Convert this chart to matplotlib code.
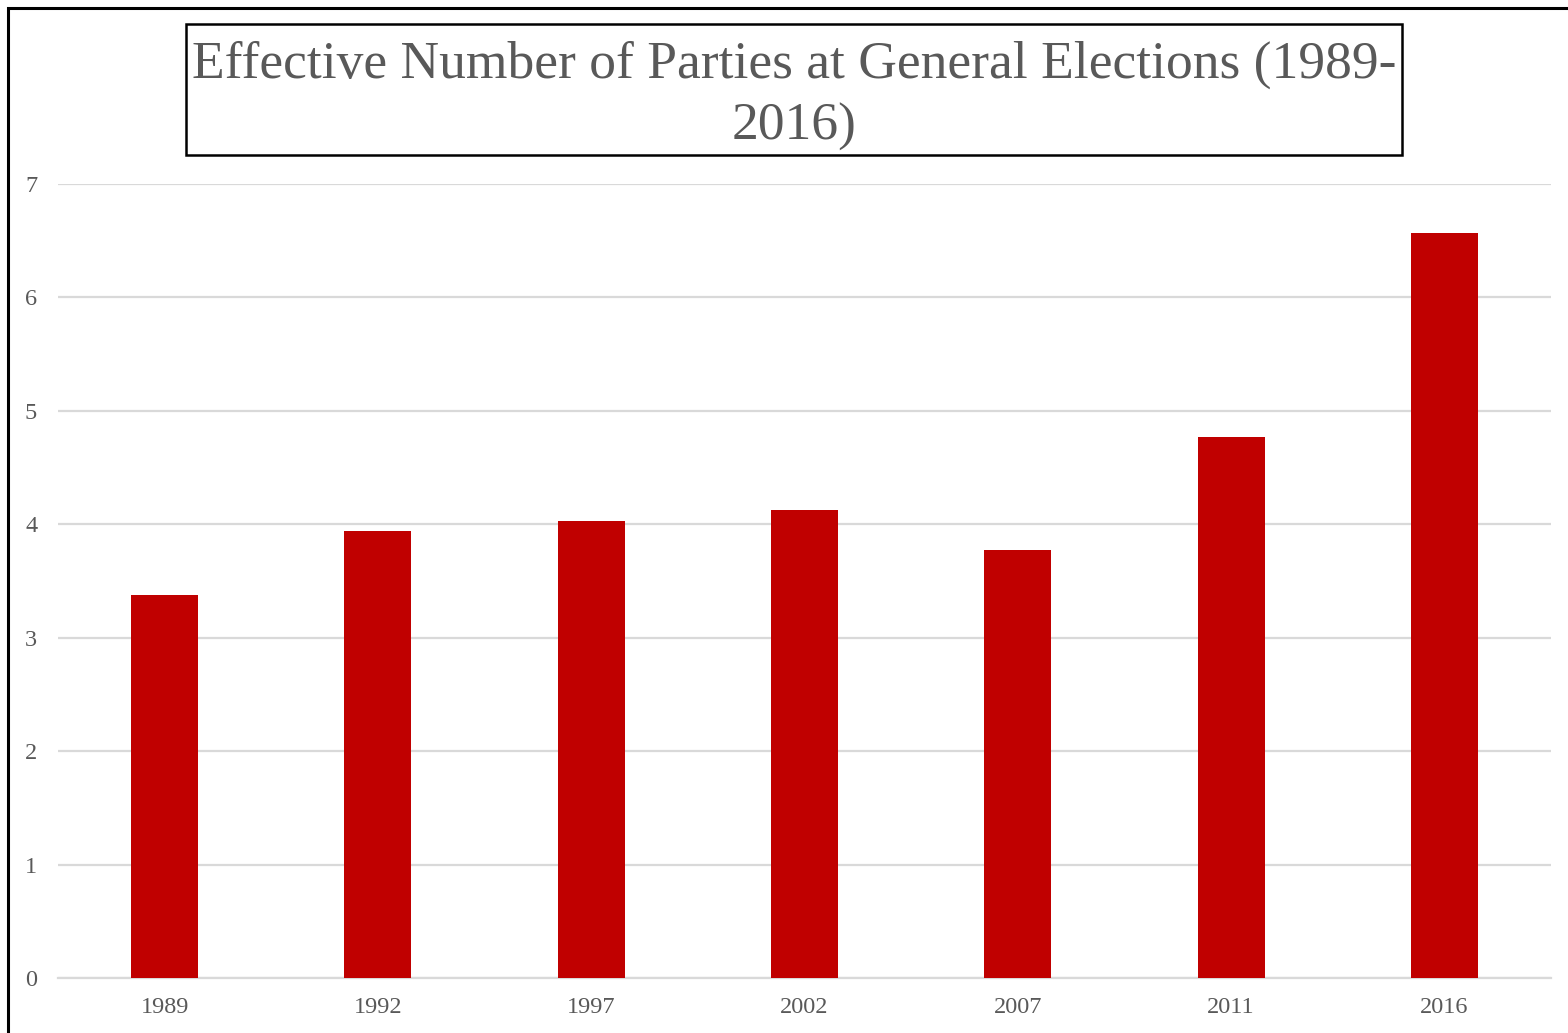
import matplotlib
matplotlib.use("Agg")
import matplotlib.pyplot as plt
from matplotlib.patches import Rectangle

years = ["1989", "1992", "1997", "2002", "2007", "2011", "2016"]
enp = [3.38, 3.94, 4.03, 4.13, 3.77, 4.77, 6.57]

W, H = 1568, 1033
fig = plt.figure(figsize=(W / 100, H / 100), dpi=100)
plt.rcParams["font.family"] = ["Liberation Serif", "DejaVu Serif"]

text_color = "#595959"
grid_color = "#D9D9D9"

# outer chart frame (runs off the right and bottom edges)
fig.add_artist(Rectangle((8 / W, -0.02), 1.05, 1 - 8 / H + 0.02,
                         transform=fig.transFigure, fill=False,
                         edgecolor="black", linewidth=2.2))

ax = fig.add_axes([58 / W, 1 - 978 / H, (1551 - 58) / W, (978 - 184) / H])
x = range(len(years))
ax.bar(x, enp, width=0.314, color="#C00000", zorder=3)
ax.set_xlim(-0.5, len(years) - 0.5)
ax.set_ylim(0, 7)
ax.set_yticks(range(0, 8))
ax.set_xticks(list(x))
ax.set_xticklabels(years)
ax.yaxis.grid(True, color=grid_color, linewidth=1.6, zorder=0)
ax.set_axisbelow(True)
for s in ["top", "right", "left"]:
    ax.spines[s].set_visible(False)
ax.spines["bottom"].set_color(grid_color)
ax.spines["bottom"].set_linewidth(1.6)
ax.tick_params(axis="both", length=0, labelsize=17.5, labelcolor=text_color)
ax.tick_params(axis="y", pad=15)
ax.tick_params(axis="x", pad=14)

# boxed title, one text per line
fig.add_artist(Rectangle((186 / W, 1 - 155 / H), (1402 - 186) / W, (155 - 24) / H,
                         transform=fig.transFigure, fill=False,
                         edgecolor="black", linewidth=1.8))
title_lines = ["Effective Number of Parties at General Elections (1989-", "2016)"]
for line, base in zip(title_lines, [78, 140]):
    fig.text(794 / W, 1 - base / H, line, ha="center", va="baseline",
             fontsize=38.5, color=text_color)

fig.savefig("out.png", dpi=100)
